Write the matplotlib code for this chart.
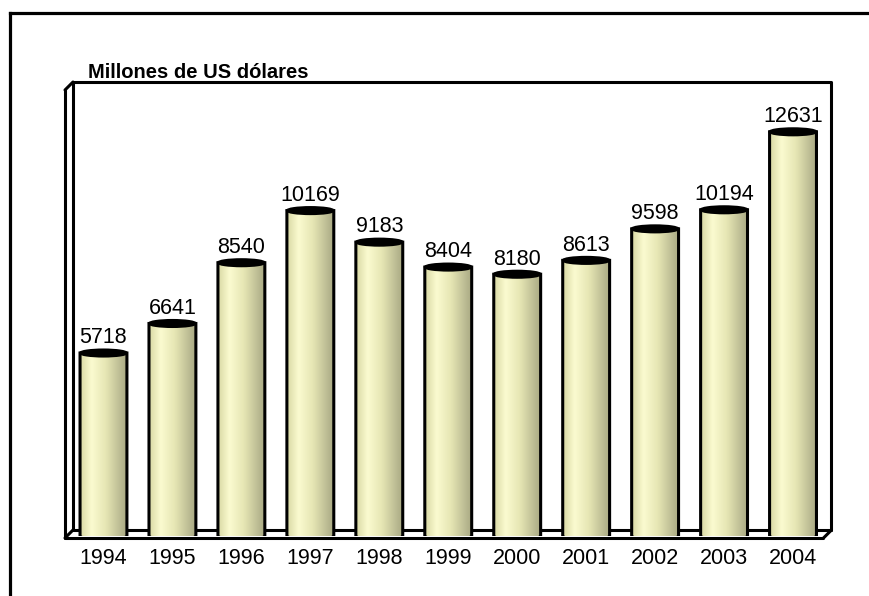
import numpy as np
import matplotlib
matplotlib.use('Agg')
import matplotlib.pyplot as plt
from matplotlib.patches import Ellipse, PathPatch
from matplotlib.path import Path
from matplotlib.lines import Line2D
from matplotlib.colors import LinearSegmentedColormap

plt.rcParams['font.family'] = ['Liberation Sans', 'DejaVu Sans']

# Exportaciones anuales (millones de US dolares)
anios = ['1994', '1995', '1996', '1997', '1998', '1999',
         '2000', '2001', '2002', '2003', '2004']
valores = [5718, 6641, 8540, 10169, 9183, 8404, 8180, 8613, 9598, 10194, 12631]

ymax = 14000

# degradado horizontal para dar efecto de cilindro
cmap = LinearSegmentedColormap.from_list('cilindro', [
    (0.00, '#d8d8a4'),
    (0.25, '#fbfbd0'),
    (0.55, '#e6e6b4'),
    (0.85, '#bcbc94'),
    (1.00, '#a9a982'),
])

fig = plt.figure(figsize=(8.7, 5.96), dpi=100)
ax_w_px, ax_h_px = 758.5, 448
ax = fig.add_axes([69 / 870, 60 / 596, ax_w_px / 870, ax_h_px / 596])
ax.set_xlim(-0.5, len(anios) - 0.5)
ax.set_ylim(0, ymax)
for s in ax.spines.values():
    s.set_visible(False)
ax.set_yticks([])
ax.set_xticks(range(len(anios)), anios, fontsize=15.5)
ax.tick_params(axis='x', length=0, pad=8.5)

# caja en pseudo 3D (pared del fondo + arista frontal)
fx, fy = -4 / ax_w_px, -2 / ax_h_px
bx, by = 4 / ax_w_px, 6 / ax_h_px
caja = [
    ([bx, bx, 1 + bx, 1 + bx], [by, 1 + by, 1 + by, by]),      # pared fondo
    ([bx, 1 + bx], [by, by]),                                  # piso fondo
    ([fx, fx], [fy, 1 + fy]),                                  # arista izquierda
    ([fx, 1 + fx], [fy, fy]),                                  # piso frente
    ([fx, bx], [1 + fy, 1 + by]),
    ([fx, bx], [fy, by]),
    ([1 + fx, 1 + bx], [fy, by]),
]
for xs, ys in caja:
    ax.plot(xs, ys, color='black', lw=2.2, transform=ax.transAxes,
            clip_on=False, zorder=1, solid_capstyle='round')

ancho = 0.68
eh = 3.5 * ymax / ax_h_px  # semieje vertical de la elipse en unidades de datos
t = np.linspace(np.pi, 2 * np.pi, 40)
grad = np.tile(np.linspace(0, 1, 256), (2, 1))

for i, v in enumerate(valores):
    x0, x1 = i - ancho / 2, i + ancho / 2
    verts = [(x0, v)]
    verts += list(zip(i + ancho / 2 * np.cos(t), eh * np.sin(t)))
    verts += [(x1, v), (x0, v)]
    codes = [Path.MOVETO] + [Path.LINETO] * (len(verts) - 2) + [Path.CLOSEPOLY]
    cuerpo = Path(verts, codes)

    borde = PathPatch(cuerpo, facecolor='none', edgecolor='black', lw=2.2, zorder=4)
    ax.add_patch(borde)
    img = ax.imshow(grad, extent=(x0, x1, -eh, v), aspect='auto', cmap=cmap,
                    interpolation='bicubic', zorder=3)
    img.set_clip_path(borde)

    tapa = Ellipse((i, v), ancho, 2 * eh, facecolor='black', edgecolor='black',
                   lw=1.5, zorder=5)
    ax.add_patch(tapa)

    ax.annotate(str(v), (i, v), xytext=(0, 7), textcoords='offset points',
                ha='center', va='baseline', fontsize=15.5)

ax.set_xlim(-0.5, len(anios) - 0.5)
ax.set_ylim(0, ymax)

fig.text(88 / 870, 1 - 78 / 596, 'Millones de US dólares', fontsize=14.5,
         fontweight='bold', va='baseline')

# marco exterior
fig.add_artist(Line2D([10 / 870, 10 / 870], [0, 1 - 12.5 / 596], color='black', lw=2.3))
fig.add_artist(Line2D([10 / 870, 1], [1 - 12.5 / 596, 1 - 12.5 / 596], color='black', lw=2.3))

fig.savefig('out.png', dpi=100)
